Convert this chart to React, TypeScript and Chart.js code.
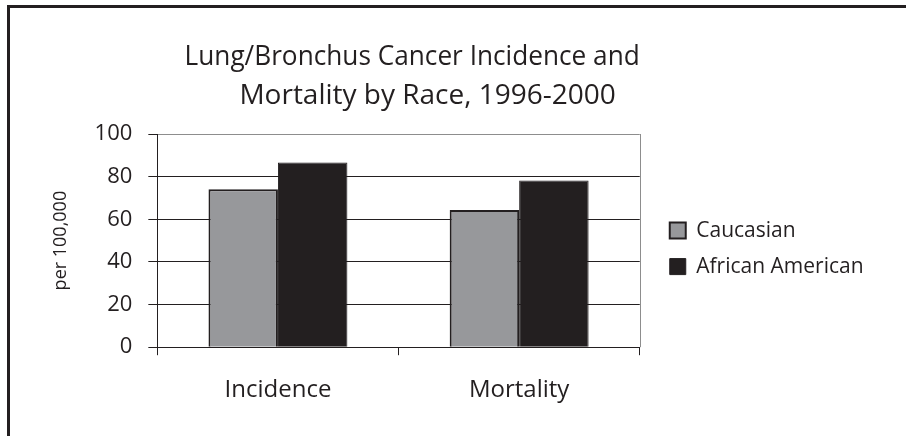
import { useEffect, useRef } from "react";
import { Chart, registerables } from "chart.js";

Chart.register(...registerables);

const categories = ["Incidence", "Mortality"];
const seriesNames = ["Caucasian", "African American"];
const caucasian = [74.1, 64.3];
const africanAmerican = [86.6, 78.2];
const titleLines = ["    Lung/Bronchus Cancer Incidence and", "        Mortality by Race, 1996-2000"];
const yAxisTitle = "per 100,000";
const yMin = 0;
const yMax = 100;
const yStep = 20;

const FONT = "'Open Sans', 'DejaVu Sans', sans-serif";
const INK = "#231f20";
const GRAY = "#97989b";
const FRAME = "#8d8d8d";

// right-hand frame of the plot and a small nudge for the legend block
const framePlugin = {
  id: "frameAndLegendNudge",
  afterLayout(chart: any) {
    const lg = chart.legend;
    if (lg) {
      lg.left += 15;
      lg.right += 15;
      lg.top += 8;
      lg.bottom += 8;
    }
  },
  afterDatasetsDraw(chart: any) {
    const { ctx, chartArea } = chart;
    ctx.save();
    ctx.strokeStyle = FRAME;
    ctx.lineWidth = 1;
    ctx.beginPath();
    ctx.moveTo(Math.round(chartArea.right) + 0.5, chartArea.top);
    ctx.lineTo(Math.round(chartArea.right) + 0.5, chartArea.bottom);
    ctx.stroke();
    ctx.restore();
  },
};

export default function App() {
  const canvasRef = useRef<HTMLCanvasElement | null>(null);

  useEffect(() => {
    const canvas = canvasRef.current;
    if (!canvas) return;
    Chart.defaults.font.family = FONT;
    const chart = new Chart(canvas, {
      type: "bar",
      data: {
        labels: categories,
        datasets: [
          {
            label: seriesNames[0],
            data: caucasian,
            backgroundColor: GRAY,
            borderColor: INK,
            borderWidth: 2,
          },
          {
            label: seriesNames[1],
            data: africanAmerican,
            backgroundColor: INK,
            borderColor: INK,
            borderWidth: 1,
          },
        ],
      },
      options: {
        responsive: false,
        animation: false,
        devicePixelRatio: 1,
        layout: { padding: { left: 0, right: 53, top: 0, bottom: 10 } },
        datasets: { bar: { categoryPercentage: 0.576, barPercentage: 1 } },
        plugins: {
          tooltip: { enabled: false },
          title: {
            display: true,
            text: titleLines,
            fullSize: false,
            align: "center",
            color: INK,
            font: { family: FONT, size: 28, weight: "normal", lineHeight: 39 / 28 },
            padding: { top: 38, bottom: 18 },
          },
          legend: {
            position: "right",
            align: "center",
            fullSize: false,
            labels: {
              boxWidth: 16,
              boxHeight: 16,
              padding: 15,
              color: INK,
              font: { family: FONT, size: 21 },
            },
          },
        },
        scales: {
          x: {
            ticks: { color: INK, font: { family: FONT, size: 24 }, padding: 21 },
            grid: {
              offset: true,
              drawOnChartArea: false,
              drawTicks: true,
              tickLength: 8,
              tickColor: INK,
              color: INK,
            },
            border: { display: true, color: INK, width: 1 },
          },
          y: {
            min: yMin,
            max: yMax,
            ticks: { stepSize: yStep, color: INK, font: { family: FONT, size: 22 }, padding: 16 },
            grid: {
              color: (ctx: any) => (ctx.tick && ctx.tick.value === yMax ? FRAME : INK),
              tickColor: INK,
              tickLength: 9,
              lineWidth: 1,
            },
            border: { display: true, color: INK, width: 1 },
            title: {
              display: true,
              text: yAxisTitle,
              color: INK,
              font: { family: FONT, size: 18 },
              padding: { top: 50, bottom: 7 },
            },
          },
        },
      },
      plugins: [framePlugin],
    } as any);
    return () => chart.destroy();
  }, []);

  return (
    <div
      style={{
        position: "fixed",
        left: 0,
        top: 0,
        width: 906,
        height: 436,
        overflow: "hidden",
        background: "#ffffff",
      }}
    >
      <div
        style={{
          position: "absolute",
          left: 7,
          top: 5,
          width: 2000,
          height: 2000,
          borderLeft: `3px solid ${INK}`,
          borderTop: `3px solid ${INK}`,
        }}
      />
      <canvas
        ref={canvasRef}
        width={906}
        height={436}
        style={{ position: "absolute", left: 0, top: 0, width: 906, height: 436 }}
      />
    </div>
  );
}
